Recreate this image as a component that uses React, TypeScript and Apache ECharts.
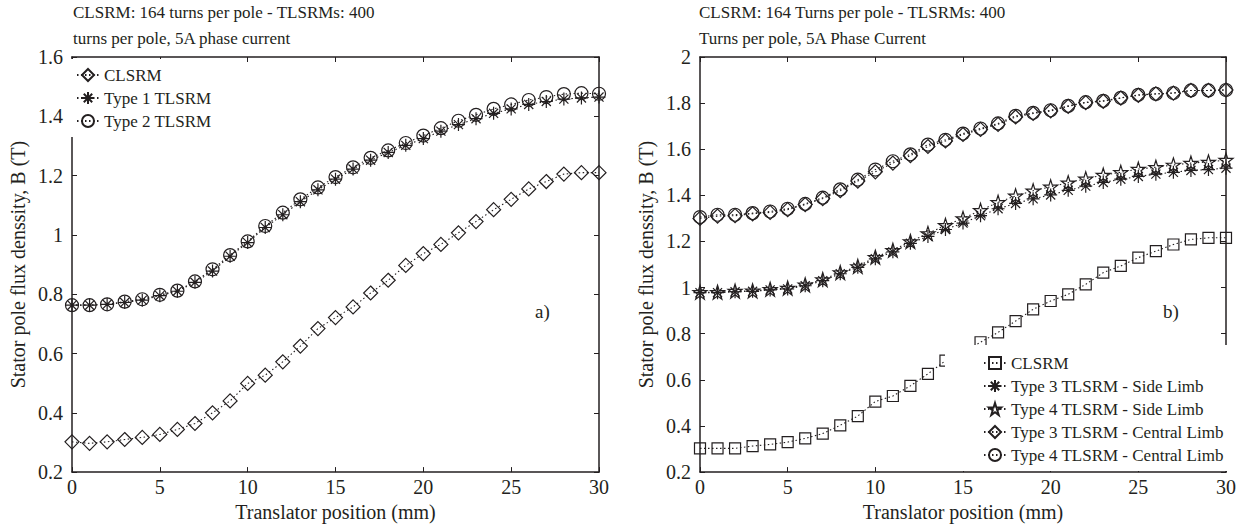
import React, { useEffect, useRef } from "react";
import * as echarts from "echarts";

const positions = Array.from({ length: 31 }, (_, i) => i);

const leftCLSRM = [0.302, 0.297, 0.302, 0.31, 0.317, 0.327, 0.344, 0.364, 0.4, 0.44, 0.499, 0.527, 0.572, 0.625, 0.684, 0.721, 0.757, 0.804, 0.847, 0.897, 0.937, 0.968, 1.007, 1.045, 1.085, 1.12, 1.155, 1.18, 1.205, 1.21, 1.21];
const leftType1 = [0.763, 0.763, 0.766, 0.772, 0.78, 0.795, 0.81, 0.84, 0.878, 0.928, 0.974, 1.025, 1.068, 1.112, 1.152, 1.188, 1.222, 1.252, 1.278, 1.302, 1.325, 1.35, 1.372, 1.392, 1.41, 1.425, 1.44, 1.45, 1.458, 1.462, 1.465];
const leftType2 = [0.763, 0.763, 0.766, 0.775, 0.783, 0.798, 0.812, 0.843, 0.884, 0.932, 0.978, 1.03, 1.075, 1.12, 1.16, 1.195, 1.228, 1.26, 1.285, 1.31, 1.335, 1.36, 1.385, 1.405, 1.425, 1.44, 1.455, 1.465, 1.475, 1.478, 1.476];

const rightCLSRM = [0.303, 0.303, 0.303, 0.313, 0.32, 0.33, 0.346, 0.367, 0.403, 0.443, 0.506, 0.53, 0.574, 0.626, 0.683, 0.72, 0.763, 0.806, 0.855, 0.906, 0.942, 0.971, 1.014, 1.065, 1.094, 1.13, 1.158, 1.187, 1.209, 1.216, 1.216];
const rightType3Side = [0.978, 0.978, 0.982, 0.984, 0.99, 0.994, 1.008, 1.03, 1.06, 1.088, 1.125, 1.155, 1.192, 1.222, 1.252, 1.28, 1.312, 1.342, 1.365, 1.385, 1.402, 1.422, 1.44, 1.456, 1.47, 1.482, 1.492, 1.5, 1.508, 1.512, 1.518];
const rightType4Side = [0.98, 0.98, 0.985, 0.986, 0.993, 0.998, 1.012, 1.035, 1.065, 1.092, 1.132, 1.162, 1.2, 1.235, 1.27, 1.3, 1.335, 1.37, 1.398, 1.42, 1.437, 1.455, 1.472, 1.488, 1.5, 1.514, 1.522, 1.532, 1.54, 1.545, 1.553];
const rightType3Central = [1.3, 1.31, 1.312, 1.32, 1.326, 1.338, 1.36, 1.386, 1.42, 1.462, 1.502, 1.54, 1.572, 1.612, 1.636, 1.664, 1.686, 1.708, 1.74, 1.755, 1.766, 1.786, 1.802, 1.808, 1.822, 1.834, 1.84, 1.843, 1.855, 1.855, 1.857];
const rightType4Central = [1.306, 1.316, 1.316, 1.323, 1.33, 1.342, 1.363, 1.39, 1.426, 1.468, 1.512, 1.548, 1.578, 1.62, 1.641, 1.668, 1.69, 1.712, 1.745, 1.758, 1.769, 1.788, 1.804, 1.81, 1.823, 1.836, 1.84, 1.844, 1.855, 1.855, 1.857];

const xTicks = { min: 0, max: 30, interval: 5 };
const leftY = { min: 0.2, max: 1.6, interval: 0.2 };
const rightY = { min: 0.2, max: 2, interval: 0.2 };

const titleLeft = "CLSRM: 164 turns per pole - TLSRMs: 400\nturns per pole, 5A phase current";
const titleRight = "CLSRM: 164 Turns per pole - TLSRMs: 400\nTurns per pole, 5A Phase Current";
const yName = "Stator pole flux denssity, B (T)";
const xName = "Translator position (mm)";

const FONT = "Liberation Serif";
const INK = "#231f20";

const SYM = {
  diamond: "path://M0,-1L1,0L0,1L-1,0Z",
  asterisk: "path://M0,-1L0,1M-1,0L1,0M-0.7,-0.7L0.7,0.7M-0.7,0.7L0.7,-0.7",
  circle: "path://M1,0A1,1 0 1,1 -1,0A1,1 0 1,1 1,0Z",
  square: "path://M-1,-1L1,-1L1,1L-1,1Z",
  star: "path://M0,-1L0.2245,-0.309L0.951,-0.309L0.363,0.118L0.588,0.809L0,0.382L-0.588,0.809L-0.363,0.118L-0.951,-0.309L-0.2245,-0.309Z",
};

function pairs(vals: number[]) {
  return positions.map((x, i) => [x, vals[i]]);
}

function mkSeries(name: string, vals: number[], symbol: string, size: number, idx: number) {
  return {
    type: "line",
    name,
    xAxisIndex: idx,
    yAxisIndex: idx,
    data: pairs(vals),
    symbol,
    symbolSize: size,
    showSymbol: true,
    lineStyle: { color: INK, width: 1.1, type: [1.5, 2.5] },
    itemStyle: { color: "rgba(0,0,0,0)", borderColor: INK, borderWidth: 1.2 },
    emphasis: { disabled: true },
    z: 2,
  };
}

function axisCommon() {
  return {
    axisLine: { show: true, onZero: false, lineStyle: { color: INK, width: 1.5 } },
    axisTick: { show: true, inside: true, length: 5, lineStyle: { color: INK, width: 1 } },
    splitLine: { show: false },
  };
}

export default function App() {
  const ref = useRef<HTMLDivElement>(null);
  useEffect(() => {
    if (!ref.current) return;
    const chart = echarts.init(ref.current, undefined, { renderer: "svg" });
    const grids = [
      { left: 72, top: 57, width: 527, height: 416 },
      { left: 700, top: 57, width: 526, height: 416 },
    ];
    const xAxes: any[] = [];
    const yAxes: any[] = [];
    [0, 1].forEach((g) => {
      xAxes.push({
        type: "value",
        gridIndex: g,
        ...xTicks,
        position: "bottom",
        ...axisCommon(),
        axisLabel: { color: INK, fontFamily: FONT, fontSize: 20, margin: 5 },
        name: xName,
        nameLocation: "middle",
        nameGap: 27,
        nameTextStyle: { color: INK, fontFamily: FONT, fontSize: 20 },
      });
      yAxes.push({
        type: "value",
        gridIndex: g,
        ...(g === 0 ? leftY : rightY),
        position: "left",
        ...axisCommon(),
        axisLabel: { color: INK, fontFamily: FONT, fontSize: 20, margin: 9 },
        name: yName,
        nameLocation: "middle",
        nameGap: 44,
        nameTextStyle: { color: INK, fontFamily: FONT, fontSize: 20 },
      });
    });
    [0, 1].forEach((g) => {
      xAxes.push({
        type: "value",
        gridIndex: g,
        ...xTicks,
        position: "top",
        ...axisCommon(),
        axisLabel: { show: false },
      });
      yAxes.push({
        type: "value",
        gridIndex: g,
        ...(g === 0 ? leftY : rightY),
        position: "right",
        ...axisCommon(),
        axisLabel: { show: false },
      });
    });

    const legendText = { color: INK, fontFamily: FONT, fontSize: 17, lineHeight: 20 };
    chart.setOption({
      animation: false,
      backgroundColor: "#fff",
      title: [
        { text: titleLeft, left: 68, top: -6, textStyle: { color: INK, fontFamily: FONT, fontSize: 17, fontWeight: "normal", lineHeight: 26 } },
        { text: titleRight, left: 694, top: -6, textStyle: { color: INK, fontFamily: FONT, fontSize: 17, fontWeight: "normal", lineHeight: 26 } },
      ],
      grid: grids,
      xAxis: xAxes,
      yAxis: yAxes,
      legend: [
        {
          data: ["CLSRM", "Type 1 TLSRM", "Type 2 TLSRM"],
          orient: "vertical",
          left: 70,
          top: 59,
          padding: [6, 8, 6, 6],
          itemWidth: 22,
          itemHeight: 15,
          itemGap: 3,
          backgroundColor: "#fff",
          selectedMode: false,
          textStyle: legendText,
          z: 5,
        },
        {
          data: ["CLSRM (b)", "Type 3 TLSRM - Side Limb", "Type 4 TLSRM - Side Limb", "Type 3 TLSRM - Central Limb", "Type 4 TLSRM - Central Limb"],
          formatter: (n: string) => n.replace(" (b)", ""),
          orient: "vertical",
          left: 945,
          top: 345,
          padding: [8, 4, 6, 38],
          itemWidth: 22,
          itemHeight: 15,
          itemGap: 3,
          backgroundColor: "#fff",
          selectedMode: false,
          textStyle: legendText,
          z: 5,
        },
      ],
      series: [
        mkSeries("CLSRM", leftCLSRM, SYM.diamond, 14, 0),
        mkSeries("Type 1 TLSRM", leftType1, SYM.asterisk, 13, 0),
        mkSeries("Type 2 TLSRM", leftType2, SYM.circle, 13, 0),
        mkSeries("CLSRM (b)", rightCLSRM, SYM.square, 11, 1),
        mkSeries("Type 3 TLSRM - Side Limb", rightType3Side, SYM.asterisk, 13, 1),
        mkSeries("Type 4 TLSRM - Side Limb", rightType4Side, SYM.star, 14, 1),
        mkSeries("Type 3 TLSRM - Central Limb", rightType3Central, SYM.diamond, 14, 1),
        mkSeries("Type 4 TLSRM - Central Limb", rightType4Central, SYM.circle, 13, 1),
      ],
      graphic: [
        { type: "text", left: 535, top: 302, style: { text: "a)", fill: INK, font: `19px "${FONT}"` } },
        { type: "text", left: 1163, top: 302, style: { text: "b)", fill: INK, font: `19px "${FONT}"` } },
      ],
    });
    return () => chart.dispose();
  }, []);
  return <div ref={ref} style={{ position: "fixed", left: 0, top: 0, width: 1241, height: 527 }} />;
}
